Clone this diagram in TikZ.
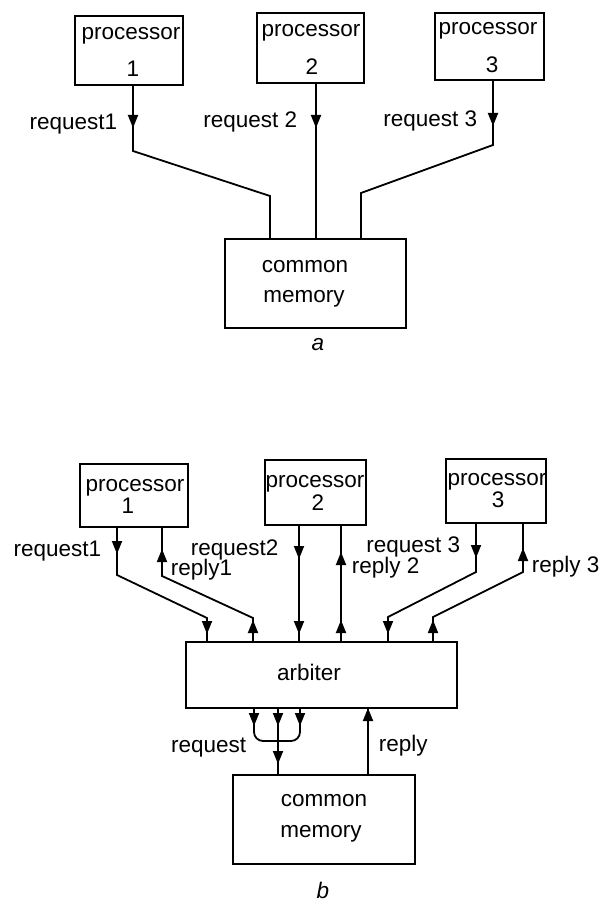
\documentclass[tikz,border=0pt]{standalone}
\usepackage{fontspec}
\setmainfont{Liberation Sans}
\usetikzlibrary{arrows.meta}
\begin{document}
\begin{tikzpicture}[x=1pt,y=-1pt,
  line width=1.8pt, line join=miter,
  box/.style={draw, rectangle, inner sep=0pt, line width=1.8pt},
  txt/.style={inner sep=0pt, font=\fontsize{22.5}{24}\selectfont},
  lab/.style={txt, anchor=base},
  labl/.style={txt, anchor=base west},
  labr/.style={txt, anchor=base east},
  figcaption/.style={txt, anchor=base, font=\fontsize{22.5}{24}\selectfont\itshape},
  tip/.style={-{Triangle[length=13pt,width=10pt]}, line width=1.8pt}]
\useasboundingbox (0,0) rectangle (598,901);

% ---------------- (a) shared memory ----------------
\node[box, minimum width=108pt, minimum height=69pt] (pa1) at (129,50.5) {};
\node[box, minimum width=107pt, minimum height=70pt] (pa2) at (310.5,48) {};
\node[box, minimum width=109pt, minimum height=67pt] (pa3) at (489.5,46.5) {};
\node[box, minimum width=181pt, minimum height=89pt] (ma) at (315.5,283.5) {};

\node[lab] (pa1t) at (131,40) {processor};
\node[lab] (pa1n) at (133,77) {1};
\node[lab] (pa2t) at (311,37) {processor};
\node[lab] (pa2n) at (312,75) {2};
\node[lab] (pa3t) at (488,35) {processor};
\node[lab] (pa3n) at (492,73) {3};
\node[lab] (mat1) at (305,272) {common};
\node[lab] (mat2) at (304,302) {memory};

\coordinate (xa1) at (133,0);
\coordinate (xa2) at (316,0);
\coordinate (xa3) at (493,0);
\coordinate (ma1) at (270,0);
\coordinate (ma3) at (361,0);

\draw (pa1.south -| xa1) -- (133,151) -- (270,196) -- (ma.north -| ma1);
\draw (pa2.south -| xa2) -- (ma.north -| xa2);
\draw (pa3.south -| xa3) -- (493,145) -- (361,193) -- (ma.north -| ma3);

\draw[tip] (133,114) -- (133,128);
\draw[tip] (316,114) -- (316,128);
\draw[tip] (493,112) -- (493,126);

\node[labr] (ra1) at (118,130) {request1};
\node[labr] (ra2) at (298,128) {request 2};
\node[labr] (ra3) at (478,127) {request 3};

\node[figcaption] (capa) at (318,350) {a};

% ---------------- (b) with arbiter ----------------
\node[box, minimum width=108pt, minimum height=63pt] (pb1) at (134,495.5) {};
\node[box, minimum width=101pt, minimum height=65pt] (pb2) at (315.5,492.5) {};
\node[box, minimum width=100pt, minimum height=64pt] (pb3) at (496,491) {};
\node[box, minimum width=271pt, minimum height=66pt] (arb) at (321.5,675) {};
\node[box, minimum width=182pt, minimum height=89pt] (mb) at (324,819.5) {};

\node[lab] (pb1t) at (135,491) {processor};
\node[lab] (pb1n) at (128,513) {1};
\node[lab] (pb2t) at (315,487) {processor};
\node[lab] (pb2n) at (318,510) {2};
\node[lab] (pb3t) at (497,485) {processor};
\node[lab] (pb3n) at (498,507) {3};
\node[lab] (arbt) at (309,680) {arbiter};
\node[lab] (mbt1) at (324,806) {common};
\node[lab] (mbt2) at (321,837) {memory};

\coordinate (xq1) at (117,0);
\coordinate (xr1) at (162,0);
\coordinate (xq2) at (299,0);
\coordinate (xr2) at (341,0);
\coordinate (xq3) at (476,0);
\coordinate (xr3) at (523,0);
\coordinate (aq1) at (207,0);
\coordinate (ar1) at (253,0);
\coordinate (aq3) at (388,0);
\coordinate (ar3) at (433,0);
\coordinate (bl) at (254,0);
\coordinate (bc) at (278,0);
\coordinate (br) at (300,0);
\coordinate (brep) at (368,0);

% processor <-> arbiter
\draw (pb1.south -| xq1) -- (117,575) -- (207,618) -- (arb.north -| aq1);
\draw (pb1.south -| xr1) -- (162,576) -- (253,618) -- (arb.north -| ar1);
\draw (pb2.south -| xq2) -- (arb.north -| xq2);
\draw (pb2.south -| xr2) -- (arb.north -| xr2);
\draw (pb3.south -| xq3) -- (476,572) -- (388,617) -- (arb.north -| aq3);
\draw (pb3.south -| xr3) -- (523,572) -- (433,617) -- (arb.north -| ar3);

\draw[tip] (117,540) -- (117,554);
\draw[tip] (162,563) -- (162,549);
\draw[tip] (299,545) -- (299,559);
\draw[tip] (341,566) -- (341,552);
\draw[tip] (476,544) -- (476,558);
\draw[tip] (523,562) -- (523,548);
\draw[tip] (207,620) -- (207,634);
\draw[tip] (253,634) -- (253,620);
\draw[tip] (299,620) -- (299,634);
\draw[tip] (341,634) -- (341,620);
\draw[tip] (388,620) -- (388,634);
\draw[tip] (433,634) -- (433,620);

% arbiter <-> memory
\draw[rounded corners=9pt] (arb.south -| bl) -- (254,741) -- (278,741);
\draw[rounded corners=9pt] (arb.south -| br) -- (300,741) -- (278,741);
\draw (arb.south -| bc) -- (mb.north -| bc);
\draw (mb.north -| brep) -- (arb.south -| brep);

\draw[tip] (254,712) -- (254,726);
\draw[tip] (278,712) -- (278,726);
\draw[tip] (300,712) -- (300,726);
\draw[tip] (278,750) -- (278,764);
\draw[tip] (368,722) -- (368,708);

\node[labr] (rq1) at (102,556) {request1};
\node[labl] (rp1) at (170,575) {reply1};
\node[labl] (rq2) at (190,555) {request2};
\node[labl] (rp2) at (351,573) {reply 2};
\node[labr] (rq3) at (461,552) {request 3};
\node[labl] (rp3) at (531,572) {reply 3};
\node[labr] (rqm) at (247,752) {request};
\node[labl] (rpm) at (378,751) {reply};

\node[figcaption] (capb) at (323,898) {b};
\end{tikzpicture}
\end{document}
